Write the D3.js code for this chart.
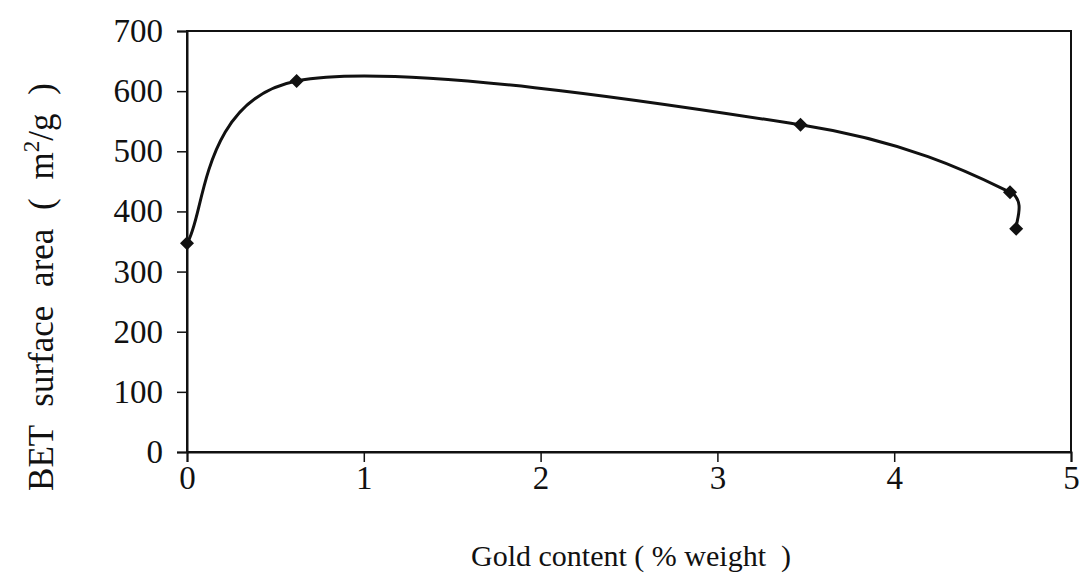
<!DOCTYPE html>
<html>
<head>
<meta charset="utf-8">
<script src="https://cdn.jsdelivr.net/npm/d3@7"></script>
<style>
  html, body { margin: 0; padding: 0; background: #fff; }
  svg { display: block; }
  text { font-family: "Liberation Serif", "Times New Roman", serif; fill: #111; white-space: pre; }
</style>
</head>
<body>
<svg id="chart" width="1081" height="573"></svg>
<script>
// Data
const goldContent = [0, 0.62, 3.47, 4.655, 4.69];
const betArea = [347, 617, 544, 432, 371];
const xTicks = [0, 1, 2, 3, 4, 5];
const yTicks = [0, 100, 200, 300, 400, 500, 600, 700];
const xLabel = "Gold content ( % weight  )";
const yLabelMain = "BET surface area ( m";
const yLabelSup = "2";
const yLabelEnd = "/g )";

// Excel-style smoothed-line curve for d3.line (Bezier with capped 1/6 control offsets)
function excelSmooth(context) {
  let pts = [];
  const dist = (a, b) => Math.hypot(b[0] - a[0], b[1] - a[1]);
  return {
    areaStart() {}, areaEnd() {},
    lineStart() { pts = []; },
    point(x, y) { pts.push([+x, +y]); },
    lineEnd() {
      const n = pts.length;
      if (!n) return;
      context.moveTo(pts[0][0], pts[0][1]);
      for (let i = 0; i < n - 1; i++) {
        const p0 = pts[Math.max(i - 1, 0)], p1 = pts[i], p2 = pts[i + 1], p3 = pts[Math.min(i + 2, n - 1)];
        const d12 = dist(p1, p2), d02 = dist(p0, p2), d13 = dist(p1, p3);
        const f1 = (d02 / 6 < d12 / 2 || d02 === 0) ? 1 / 6 : d12 / (2 * d02);
        const f2 = (d13 / 6 < d12 / 2 || d13 === 0) ? 1 / 6 : d12 / (2 * d13);
        context.bezierCurveTo(
          p1[0] + (p2[0] - p0[0]) * f1, p1[1] + (p2[1] - p0[1]) * f1,
          p2[0] - (p3[0] - p1[0]) * f2, p2[1] - (p3[1] - p1[1]) * f2,
          p2[0], p2[1]);
      }
    }
  };
}

const svg = d3.select("#chart");
const pLeft = 187, pRight = 1071, pTop = 31, pBottom = 452;

const x = d3.scaleLinear().domain([0, 5]).range([pLeft, pRight]);
const y = d3.scaleLinear().domain([0, 700]).range([pBottom, pTop]);

// frame
svg.append("rect")
  .attr("x", pLeft).attr("y", pTop)
  .attr("width", pRight - pLeft).attr("height", pBottom - pTop)
  .attr("fill", "none").attr("stroke", "#111").attr("stroke-width", 2);

// axes
const xAxis = svg.append("g").attr("transform", `translate(0,${pBottom})`)
  .call(d3.axisBottom(x).tickValues(xTicks).tickSize(10).tickPadding(4).tickFormat(d3.format("d")));
const yAxis = svg.append("g").attr("transform", `translate(${pLeft},0)`)
  .call(d3.axisLeft(y).tickValues(yTicks).tickSize(10).tickPadding(14).tickFormat(d3.format("d")));

[xAxis, yAxis].forEach(g => {
  g.select(".domain").attr("stroke", "#111").attr("stroke-width", 2);
  g.selectAll(".tick line").attr("stroke", "#111").attr("stroke-width", 1.5);
  g.selectAll(".tick text").attr("font-size", 33).attr("fill", "#111")
    .attr("font-family", "'Liberation Serif', 'Times New Roman', serif");
});
xAxis.selectAll(".tick text").attr("dy", "0.71em");

// curve
const pts = goldContent.map((g, i) => [g, betArea[i]]);
const line = d3.line().x(d => x(d[0])).y(d => y(d[1])).curve(excelSmooth);
svg.append("path").datum(pts).attr("d", line)
  .attr("fill", "none").attr("stroke", "#111").attr("stroke-width", 3);

// markers
svg.selectAll(".pt").data(pts).enter().append("path")
  .attr("class", "pt")
  .attr("transform", d => `translate(${x(d[0])},${y(d[1])})`)
  .attr("d", d3.symbol().type(d3.symbolDiamond2).size(125))
  .attr("fill", "#111");

// x label
svg.append("text").attr("x", (pLeft + pRight) / 2 + 2).attr("y", 566)
  .attr("text-anchor", "middle").attr("font-size", 30).text(xLabel);

// y label
const yl = svg.append("text")
  .attr("transform", `translate(53,${287}) rotate(-90)`)
  .attr("text-anchor", "middle").attr("font-size", 35).attr("word-spacing", 10);
yl.append("tspan").text(yLabelMain);
yl.append("tspan").attr("dy", -14).attr("font-size", 23).text(yLabelSup);
yl.append("tspan").attr("dy", 14).text(yLabelEnd);
</script>
</body>
</html>
